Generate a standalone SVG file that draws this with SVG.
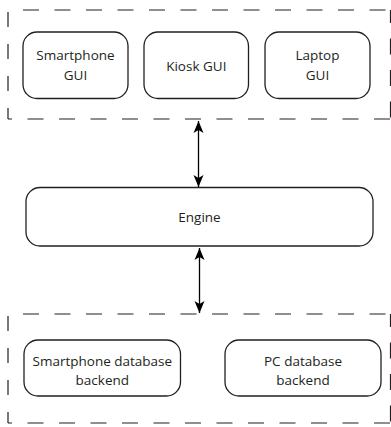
<svg xmlns="http://www.w3.org/2000/svg" width="391" height="427" viewBox="0 0 391 427">
<style>
.dash{fill:none;stroke:#231f20;stroke-width:1.2;stroke-dasharray:16 15.5}
.dl{fill:none;stroke:#231f20;stroke-width:1.2;stroke-dasharray:15 17;stroke-dashoffset:4}
.node rect{fill:#fff;stroke:#231f20;stroke-width:1.3}
text{font-family:"Open Sans","Liberation Sans",sans-serif;font-size:13.5px;fill:#231f20;text-anchor:middle}
.conn{fill:none;stroke:#000;stroke-width:1.3;marker-start:url(#ah);marker-end:url(#ah)}
</style>
<defs>
<marker id="ah" markerUnits="userSpaceOnUse" markerWidth="14" markerHeight="12" viewBox="-13 -6 14 12" refX="0" refY="0" orient="auto-start-reverse">
<path d="M0,0 L-12,-5 L-9,0 L-12,5 Z" fill="#000"/>
</marker>
</defs>
<g id="frontends-group">
<line class="dash" x1="8" y1="10" x2="391" y2="10" style="stroke-dashoffset:16.5"/>
<line class="dash" x1="8" y1="119" x2="391" y2="119" style="stroke-dashoffset:12"/>
<line class="dl" x1="8" y1="119" x2="8" y2="10"/>
<line class="dash" x1="390.5" y1="10" x2="390.5" y2="119" style="stroke-dashoffset:3"/>
</g>
<g id="backends-group">
<line class="dash" x1="8" y1="314" x2="391" y2="314" style="stroke-dashoffset:16.5"/>
<line class="dash" x1="8" y1="423" x2="391" y2="423" style="stroke-dashoffset:12"/>
<line class="dl" x1="8" y1="423" x2="8" y2="314"/>
<line class="dash" x1="390.5" y1="314" x2="390.5" y2="423" style="stroke-dashoffset:3"/>
</g>
<g id="smartphone-gui" class="node">
<rect x="23" y="32" width="105" height="66.5" rx="14"/>
<text x="75.5" y="59.5">Smartphone</text>
<text x="75.5" y="79.5">GUI</text>
</g>
<g id="kiosk-gui" class="node">
<rect x="144" y="32" width="104.5" height="66.5" rx="14"/>
<text x="196.3" y="70.5">Kiosk GUI</text>
</g>
<g id="laptop-gui" class="node">
<rect x="265" y="32" width="105" height="66.5" rx="14"/>
<text x="317.5" y="59.5">Laptop</text>
<text x="317.5" y="79.5">GUI</text>
</g>
<g id="engine" class="node">
<rect x="26" y="187.5" width="347" height="58.5" rx="14"/>
<text x="199.5" y="222">Engine</text>
</g>
<g id="smartphone-db" class="node">
<rect x="24" y="340" width="156.5" height="56" rx="14"/>
<text x="102.3" y="366">Smartphone database</text>
<text x="102.3" y="384.5">backend</text>
</g>
<g id="pc-db" class="node">
<rect x="225" y="340" width="156" height="56" rx="14"/>
<text x="303" y="366">PC database</text>
<text x="303" y="384.5">backend</text>
</g>
<g id="connectors">
<line class="conn" x1="198.5" y1="121" x2="198.5" y2="187"/>
<line class="conn" x1="199.5" y1="248" x2="199.5" y2="313"/>
</g>
</svg>
